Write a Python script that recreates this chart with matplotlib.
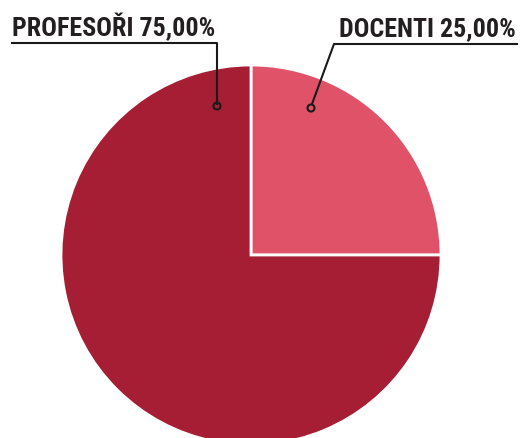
import matplotlib.pyplot as plt
from matplotlib.patches import Circle

# Données
labels = ["DOCENTI", "PROFESOŘI"]
values = [25.0, 75.0]
colors = ["#E05267", "#A51E34"]

W, H = 520, 438
fig = plt.figure(figsize=(W / 100, H / 100), dpi=100)
ax = fig.add_axes([0, 0, 1, 1])
ax.set_xlim(0, W)
ax.set_ylim(0, H)
ax.set_aspect("equal")
ax.axis("off")

# Camembert (centre et rayon en pixels)
cx, cy, r = 251, H - 255, 190
ax.pie(values, colors=colors, startangle=90, counterclock=False,
       center=(cx, cy), radius=r,
       wedgeprops=dict(edgecolor="white", linewidth=2))
ax.set_xlim(0, W)
ax.set_ylim(0, H)

fam = ["Roboto Condensed", "DejaVu Sans Condensed", "Liberation Sans Narrow", "Roboto", "DejaVu Sans"]
font = dict(family=fam, fontweight="bold", fontsize=18, color="#231F20")
txt_prof = f"{labels[1]} {values[1]:.2f}%".replace(".", ",")
txt_doc = f"{labels[0]} {values[0]:.2f}%".replace(".", ",")

# Étiquette gauche
t1 = ax.text(12, H - 36, txt_prof, ha="left", va="baseline", **font)
ax.plot([12, 217, 217], [H - 43, H - 43, H - 104], color="#1a1a1a", lw=1.5)
ax.add_patch(Circle((217, H - 106), 3.5, facecolor="none", edgecolor="#1a1a1a", lw=1.5))

# Étiquette droite
t2 = ax.text(516, H - 36, txt_doc, ha="right", va="baseline", **font)
ax.plot([517, 334, 312], [H - 44, H - 44, H - 104], color="#1a1a1a", lw=1.5)
ax.add_patch(Circle((311, H - 108), 3.5, facecolor="none", edgecolor="#1a1a1a", lw=1.5))

# ajuster la taille pour que la largeur corresponde (~203 px)
fig.canvas.draw()
w = t1.get_window_extent().width
for t in (t1, t2):
    t.set_fontsize(18 * 203 / w)

fig.savefig("out.png", dpi=100)
